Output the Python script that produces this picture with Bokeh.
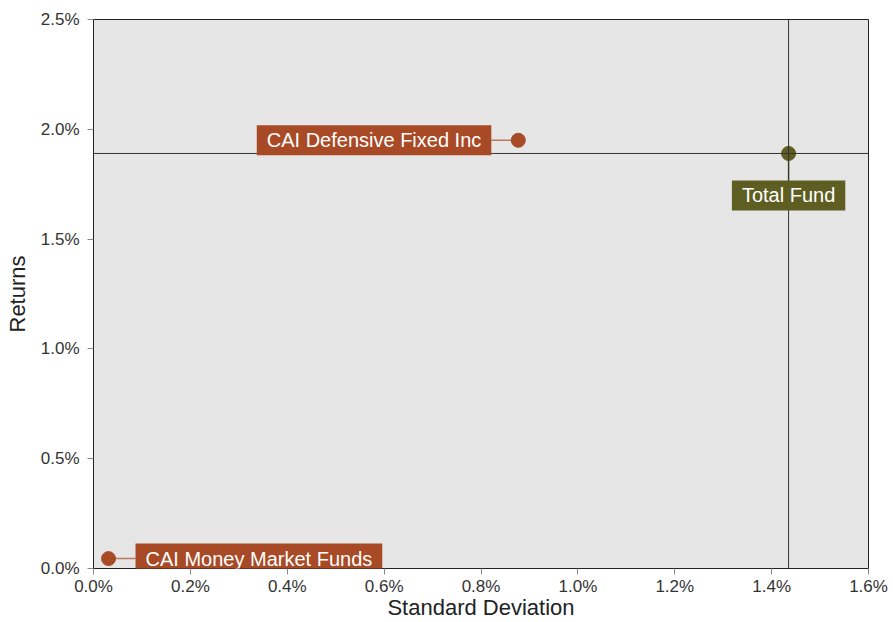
from bokeh.plotting import figure
from bokeh.models import Label, Span, FixedTicker, PrintfTickFormatter, Range1d
from bokeh.embed import file_html
from bokeh.resources import INLINE

# Data (percent)
names = ["CAI Defensive Fixed Inc", "Total Fund", "CAI Money Market Funds"]
std_dev = [0.877, 1.435, 0.031]
returns = [1.95, 1.89, 0.045]
colors = ["#A94A26", "#5E5E22", "#A94A26"]
x_ticks = [0.0, 0.2, 0.4, 0.6, 0.8, 1.0, 1.2, 1.4, 1.6]
y_ticks = [0.0, 0.5, 1.0, 1.5, 2.0, 2.5]

FONT = "Liberation Sans"
W, H = 893, 622
L, T = 93, 19
R = W - 868
B = H - 568

p = figure(width=W, height=H, output_backend="svg", toolbar_location=None,
           x_range=Range1d(0, 1.6), y_range=Range1d(0, 2.5),
           min_border_left=L, min_border_right=R, min_border_top=T, min_border_bottom=B)
p.background_fill_color = "#E6E6E6"
p.border_fill_color = "white"
p.outline_line_color = "#222222"
p.outline_line_width = 1
p.grid.visible = False

for ax, ticks in ((p.xaxis[0], x_ticks), (p.yaxis[0], y_ticks)):
    ax.ticker = FixedTicker(ticks=ticks)
    ax.formatter = PrintfTickFormatter(format="%.1f%%")
    ax.major_tick_in = 0
    ax.major_tick_out = 6
    ax.minor_tick_line_color = None
    ax.major_tick_line_color = "#888888"
    ax.axis_line_color = "#222222"
    ax.major_label_text_font = FONT
    ax.major_label_text_font_size = "17px"
    ax.major_label_text_color = "#333333"
    ax.axis_label_text_font = FONT
    ax.axis_label_text_font_size = "22px"
    ax.axis_label_text_font_style = "normal"
    ax.axis_label_text_color = "#222222"

p.xaxis.axis_label = "Standard Deviation"
p.yaxis.axis_label = "Returns"
p.xaxis.major_label_standoff = 2
p.yaxis.major_label_standoff = 8
p.xaxis.axis_label_standoff = -4
p.yaxis.axis_label_standoff = 8

# Crosshair at Total Fund
p.add_layout(Span(location=std_dev[1], dimension="height", line_color="#333333", line_width=1))
p.add_layout(Span(location=returns[1], dimension="width", line_color="#333333", line_width=1))

# connectors (27 px offsets converted to data units)
px_x = 1.6 / 775
px_y = 2.5 / 549
off = 27
p.segment(x0=[std_dev[0]], y0=[returns[0]], x1=[std_dev[0] - off * px_x], y1=[returns[0]],
          line_color=colors[0], line_width=1.5, line_alpha=0.7)
p.segment(x0=[std_dev[1]], y0=[returns[1]], x1=[std_dev[1]], y1=[returns[1] - off * px_y],
          line_color=colors[1], line_width=1.5)
p.segment(x0=[std_dev[2]], y0=[returns[2]], x1=[std_dev[2] + off * px_x], y1=[returns[2]],
          line_color=colors[2], line_width=1.5, line_alpha=0.7)

p.scatter(x=std_dev, y=returns, size=14, fill_color=colors, line_color=colors)

placements = [
    dict(text_align="right", text_baseline="middle", x_offset=-off, y_offset=0),
    dict(text_align="center", text_baseline="top", x_offset=0, y_offset=-off),
    dict(text_align="left", text_baseline="middle", x_offset=off, y_offset=0),
]
for i, name in enumerate(names):
    p.add_layout(Label(x=std_dev[i], y=returns[i], text=name, text_font=FONT,
                       text_font_size="20px", text_color="white",
                       background_fill_color=colors[i], padding=(10, 4),
                       **placements[i]))

open("out.html", "w").write(file_html(p, INLINE))
